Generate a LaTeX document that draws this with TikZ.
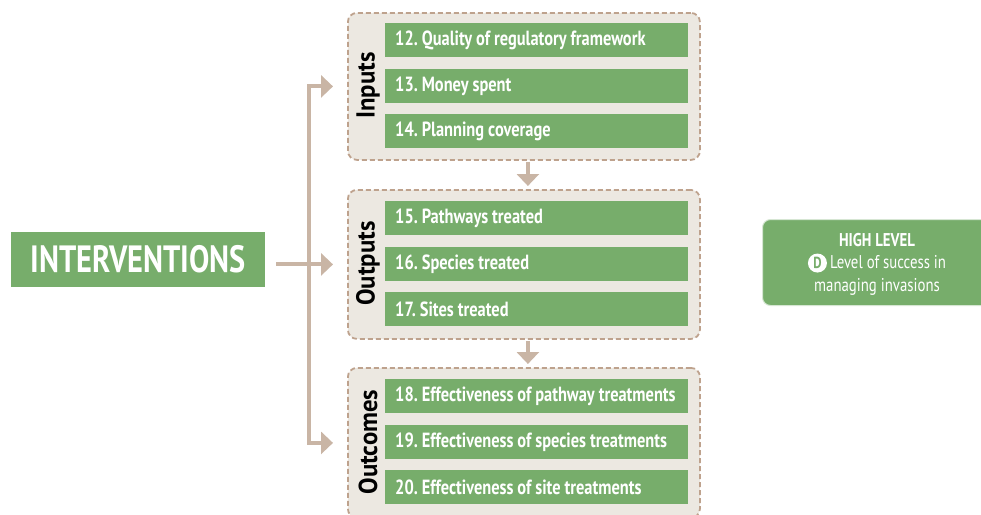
\documentclass[tikz,border=0pt]{standalone}
\usepackage{fontspec}
\setmainfont{PT Sans}[FakeStretch=0.8]
\newfontfamily\lblfont{PT Sans}[FakeStretch=0.95]
\usetikzlibrary{arrows.meta}
\definecolor{grn}{HTML}{77AD6B}
\definecolor{tanc}{HTML}{C9B5A5}
\definecolor{dashc}{HTML}{BEA28D}
\definecolor{beige}{HTML}{ECE8E1}
\frenchspacing
\newcommand{\myitemfont}{\bfseries\fontsize{20.5}{22}\selectfont\spaceskip=4pt plus 1pt\relax}
\newcommand{\itx}[1]{\makebox[283pt][l]{#1}}
\begin{document}
\begin{tikzpicture}[x=1pt,y=-1pt,
  item/.style={fill=grn, text=white, font=\myitemfont,
    minimum width=303pt, minimum height=34pt, anchor=north west,
    inner xsep=10pt, inner ysep=0pt},
  grp/.style={draw=dashc, fill=beige, dash pattern=on 5pt off 3pt, line width=1.8pt,
    rounded corners=9pt, minimum width=352pt, anchor=north west, inner sep=0pt},
  glabel/.style={rotate=90, font=\lblfont\bfseries\fontsize{26}{28}\selectfont, text=black},
  arr/.style={draw=tanc, line width=4pt, -{Triangle[width=22pt,length=12pt]}}
]
\useasboundingbox (0,0) rectangle (981,514);

\node[fill=grn, text=white, minimum width=254pt, minimum height=55pt,
  font=\bfseries\fontsize{38}{40}\selectfont] (interv) at (138,259.5) {INTERVENTIONS};

\node[grp, minimum height=147pt] (inputs) at (347,12) {};
\node[grp, minimum height=149pt] (outputs) at (347,189) {};
\node[grp, minimum height=150pt] (outcomes) at (347,367) {};

\node[glabel] (linputs) at (368,85.5) {Inputs};
\node[glabel] (loutputs) at (368,263.5) {Outputs};
\node[glabel] (loutcomes) at (368,442) {Outcomes};

\node[item] (i12) at (385,23) {\itx{12. Quality of regulatory framework}};
\node[item] (i13) at (385,69) {\itx{13. Money spent}};
\node[item] (i14) at (385,114) {\itx{14. Planning coverage}};
\node[item] (i15) at (385,201) {\itx{15. Pathways treated}};
\node[item] (i16) at (385,247) {\itx{16. Species treated}};
\node[item] (i17) at (385,292) {\itx{17. Sites treated}};
\node[item] (i18) at (385,379) {\itx{18. Effectiveness of pathway treatments}};
\node[item] (i19) at (385,425) {\itx{19. Effectiveness of species treatments}};
\node[item] (i20) at (385,470) {\itx{20. Effectiveness of site treatments}};

\node[fill=grn, rounded corners=8pt, draw=grn!30!white, line width=1pt,
  minimum width=232pt, minimum height=86pt, anchor=north west] (high) at (762,219) {};
\node[text=white, align=center, font=\fontsize{18.5}{22.5}\selectfont] (hightext) at (877,264)
  {\textbf{HIGH LEVEL}\\
   \tikz[baseline=(d.base)]\node[circle,fill=white,text=grn,inner sep=1pt,minimum size=19pt,font=\bfseries\fontsize{16}{16}\selectfont](d){D};\,Level of success in\\
   managing invasions};

\coordinate (hub) at (309,262);
\draw[arr, shorten >=14pt] (hub) |- (inputs.west);
\draw[arr, shorten >=14pt] (hub) |- (outcomes.west);
\draw[arr, shorten <=11pt, shorten >=14pt] (interv.east |- outputs.west) -- (outputs.west);
\draw[arr, shorten <=1pt, shorten >=3pt] ([xshift=4pt]inputs.south) -- ([xshift=4pt]outputs.north);
\draw[arr, shorten <=1pt, shorten >=3pt] ([xshift=4pt]outputs.south) -- ([xshift=4pt]outcomes.north);
\end{tikzpicture}
\end{document}
